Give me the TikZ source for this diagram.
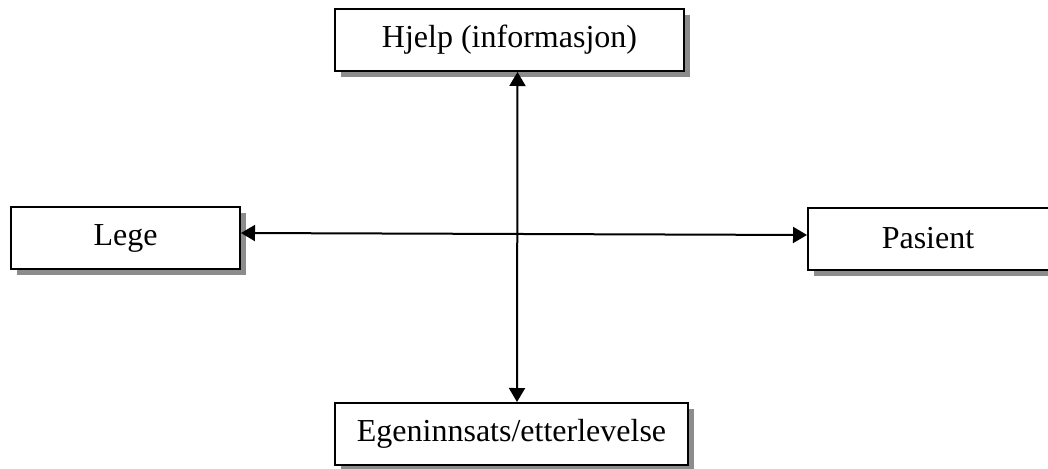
\documentclass[tikz,border=0pt]{standalone}
\usepackage{fontspec}
\setmainfont{Liberation Serif}
\usetikzlibrary{arrows.meta,shadows}
\begin{document}
\begin{tikzpicture}[x=1pt,y=-1pt,
  box/.style={draw=black,line width=2pt,fill=white,inner sep=0pt,
    minimum height=62pt,font=\fontsize{32}{38}\selectfont,
    drop shadow={shadow xshift=6pt,shadow yshift=-6pt,fill=gray!90,opacity=1}},
  conn/.style={line width=2pt,{Triangle[length=14pt,width=16pt]}-{Triangle[length=14pt,width=16pt]}}]
\useasboundingbox (0,0) rectangle (1048,468);
\clip (0,0) rectangle (1048,468);
\node[box,minimum width=349pt] (help) at (509.5,40) {Hjelp (informasjon)};
\node[box,minimum width=353pt] (ege) at (511.5,434) {Egeninnsats/etterlevelse};
\node[box,minimum width=229pt] (lege) at (125.5,238) {Lege};
\node[box,minimum width=250pt] (pas) at (933,238.5) {Pasient\hspace*{10pt}};
\draw[conn] ([xshift=8pt]help.south) -- ([xshift=5.5pt]ege.north);
\draw[conn] ([yshift=5pt]lege.east) -- ([yshift=3.5pt]pas.west);
\end{tikzpicture}
\end{document}
